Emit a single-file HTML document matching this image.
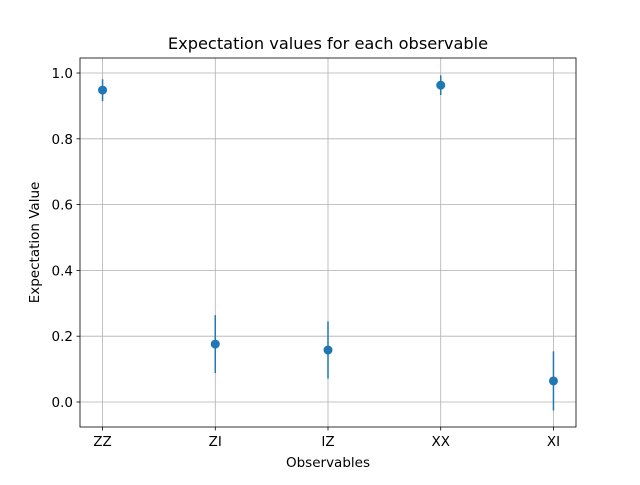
<!DOCTYPE html>
<html><head><meta charset="utf-8"><style>
body{margin:0;background:#fff}
svg text{font-family:"DejaVu Sans","Liberation Sans",sans-serif;fill:#000}
</style></head><body>
<svg width="640" height="480" xmlns="http://www.w3.org/2000/svg">
<rect width="640" height="480" fill="#fff"/>
<g id="grid"></g><g id="axes"></g><g id="marks"></g>
<rect x="80" y="58" width="496" height="369" fill="none" stroke="#000" stroke-width="0.8"/>
<text x="328" y="49" text-anchor="middle" font-size="16.2">Expectation values for each observable</text>
<text x="328" y="467" text-anchor="middle" font-size="13.5">Observables</text>
<text transform="translate(39,242.5) rotate(-90)" text-anchor="middle" font-size="13.5">Expectation Value</text>
</svg>
<script>
const categories=["ZZ","ZI","IZ","XX","XI"];
const values=[0.948,0.176,0.158,0.963,0.064];
const errors=[0.033,0.088,0.087,0.03,0.09];
const yTicks=[0.0,0.2,0.4,0.6,0.8,1.0];
const L=80,R=576,T=58,B=427,xmin=-0.2,xmax=4.2,ymin=-0.0760,ymax=1.0456;
const xs=i=>L+(i-xmin)/(xmax-xmin)*(R-L);
const ys=v=>B-(v-ymin)/(ymax-ymin)*(B-T);
const NS="http://www.w3.org/2000/svg";
function mk(p,t,a){const e=document.createElementNS(NS,t);for(const k in a)e.setAttribute(k,a[k]);document.getElementById(p).appendChild(e);return e;}
categories.forEach((c,i)=>{const x=xs(i);
let g=mk('grid','line',{x1:x,x2:x,y1:T,y2:B,stroke:'#b0b0b0','stroke-width':0.8});


mk('axes','line',{x1:x,x2:x,y1:B,y2:B+3.5,stroke:'#000','stroke-width':0.8});
let t=mk('axes','text',{x:x,y:B+19,'text-anchor':'middle','font-size':13.5});t.textContent=c;


});
yTicks.forEach(v=>{const y=ys(v);
let g=mk('grid','line',{x1:L,x2:R,y1:y,y2:y,stroke:'#b0b0b0','stroke-width':0.8});


mk('axes','line',{x1:L-3.5,x2:L,y1:y,y2:y,stroke:'#000','stroke-width':0.8});
let t=mk('axes','text',{x:L-7,y:y+5,'text-anchor':'end','font-size':13.5});t.textContent=v.toFixed(1);


});
values.forEach((v,i)=>{const x=xs(i);
let e=mk('marks','line',{x1:x,x2:x,y1:ys(v-errors[i]),y2:ys(v+errors[i]),stroke:'#1f77b4','stroke-width':1.5});


let p=mk('marks','circle',{cx:x,cy:ys(v),r:4.5,fill:'#1f77b4'});


});
</script>
</body></html>
